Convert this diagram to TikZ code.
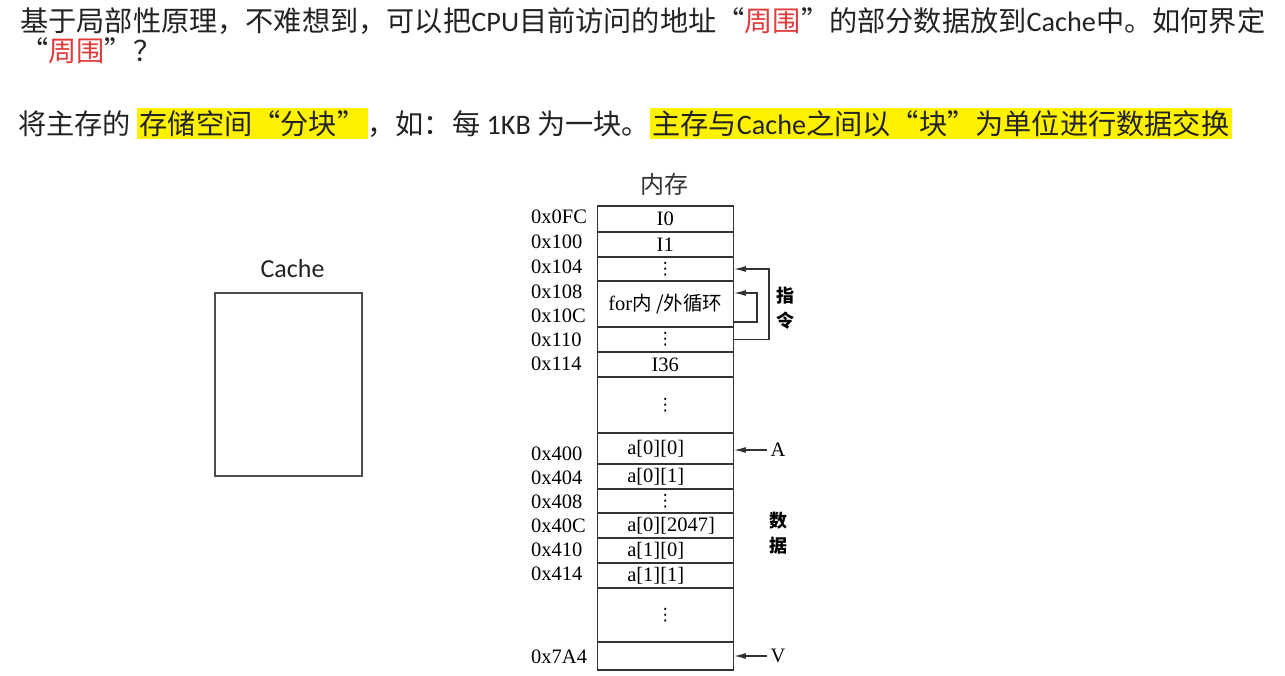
\documentclass[tikz,border=0pt]{standalone}
\usepackage{fontspec}
\setmainfont{Liberation Serif}
\newfontfamily\cjk{Noto Sans CJK SC}
\newfontfamily\cali{Carlito}
\newfontfamily\dejavu{DejaVu Sans}
\usetikzlibrary{arrows.meta,positioning}
\definecolor{hired}{RGB}{225,60,60}
\definecolor{txtgray}{RGB}{35,35,35}
\newcommand\celldots{{\dejavu\fontsize{17}{18}\selectfont ⋮}}
\newcommand\lcell[1]{\makebox[76pt][l]{#1}}
\newcommand\hlbox[1]{{\setlength\fboxsep{2.3pt}\colorbox{yellow}{#1}}}
\tikzset{
  memcell/.style={draw=black!80, line width=1.4pt, minimum width=136pt, inner sep=0pt, font=\fontsize{20.5}{21}\selectfont},
  addr/.style={anchor=west, inner sep=0pt, font=\fontsize{20.5}{21}\selectfont},
  side/.style={inner sep=0pt, font=\cjk\bfseries\fontsize{18}{25}\selectfont, align=center},
  ptr/.style={inner sep=3pt, font=\fontsize{20.5}{21}\selectfont},
  tip/.style={-{Latex[length=12pt,width=6pt]}, line width=1.3pt, draw=black!80},
  para/.style={anchor=base west, inner sep=0pt, text=txtgray, font=\cjk\fontsize{28.2}{30}\selectfont},
}

\begin{document}
\begin{tikzpicture}[x=1pt,y=-1pt]
  \fill[white] (0,0) rectangle (1285,675);
  \useasboundingbox (0,0) rectangle (1285,675);

  % text lines
  \node[para] (line1) at (20,31) {基于局部性原理，不难想到，可以把{\cali CPU}目前访问的地址“{\color{hired}周围}”的部分数据放到{\cali Cache}中。如何界定};
  \node[para] (line2) at (20,61) {“{\color{hired}周围}”？};
  \node[para] (line3) at (18,134) {将主存的 \hlbox{存储空间“分块”}，如：每 {\cali 1KB} 为一块。\hlbox{主存与{\cali Cache}之间以“块”为单位进行数据交换}};

  % cache
  \node[draw=black!70, line width=2pt, minimum width=147pt, minimum height=183pt] (cache) at (288.5,384.5) {};
  \node[above=14pt of cache, xshift=4pt, inner sep=0pt, font=\cali\fontsize{26}{28}\selectfont, text=txtgray] (cachelbl) {Cache};

  % memory
  \node[font=\cjk\fontsize{24}{26}\selectfont, text=black!80] (mem) at (664,184) {内存};
  \foreach \n/\ya/\yb/\txt in {1/206/232/I0, 2/232/257/I1, 3/257/281/\celldots,
      4/281/327/{for{\cjk\fontsize{19.5}{20}\selectfont 内 /外循环}}, 5/327/352/\celldots,
      6/352/377/I36, 7/377/433/\celldots, 8/433/464/\lcell{a[0][0]}, 9/464/489/\lcell{a[0][1]},
      10/489/513/\celldots, 11/513/538/\lcell{a[0][2047]}, 12/538/563/\lcell{a[1][0]},
      13/563/588/\lcell{a[1][1]}, 14/588/642/\celldots, 15/642/670/{}}{
    \pgfmathsetmacro\h{\yb-\ya}
    \node[memcell, minimum height=\h pt] (r\n) at (665.25,{(\ya+\yb)/2}) {\txt};
  }
  \foreach \a/\y [count=\i] in {0x0FC/217, 0x100/242, 0x104/267, 0x108/292, 0x10C/316,
      0x110/340, 0x114/364, 0x400/454, 0x404/478, 0x408/502, 0x40C/526, 0x410/550,
      0x414/574, 0x7A4/657}
    \node[addr] (a\i) at (531,\y) {\a};

  % pointers
  \draw[tip] (r5.east) -- ++(35,0) |- (r3.east);
  \draw[tip] ([yshift=-18pt]r4.east) -- ++(23,0) |- ([yshift=11pt]r4.east);
  \node[side] (instr) at (785,308) {指\\令};
  \node[side] (data) at (778,533) {数\\据};
  \node[ptr] (ptrA) at (778,450) {A};
  \node[ptr] (ptrV) at (778,656) {V};
  \draw[tip] (ptrA.west) -- (ptrA.west -| r8.east);
  \draw[tip] (ptrV.west) -- (ptrV.west -| r15.east);
\end{tikzpicture}
\end{document}
